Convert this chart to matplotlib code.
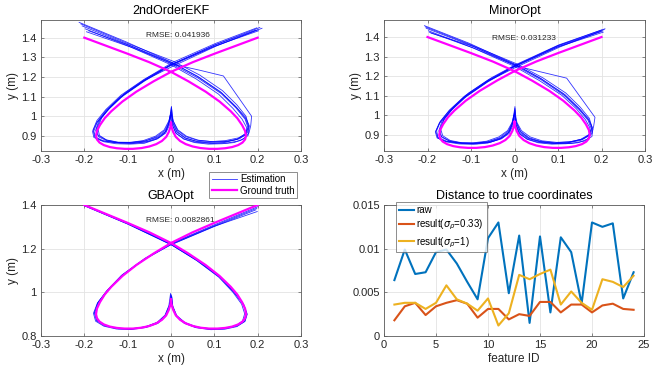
import matplotlib
matplotlib.use("Agg")
import matplotlib.pyplot as plt
from matplotlib.ticker import FuncFormatter

plt.rcParams['font.family'] = ['Liberation Sans', 'DejaVu Sans']

# ---------------- data ----------------
GT_X = [-0.200, -0.150, -0.100, -0.050,
        0.000, 0.040, 0.080, 0.112, 0.138, 0.153, 0.164, 0.171, 0.173, 0.171, 0.165, 0.155,
        0.141, 0.125, 0.107, 0.088, 0.068, 0.050, 0.034, 0.021, 0.011, 0.005, 0.001, 0.000,
        -0.001, -0.005, -0.011, -0.021, -0.034, -0.050, -0.068, -0.088, -0.107, -0.125, -0.141,
        -0.155, -0.165, -0.171, -0.173, -0.171, -0.164, -0.153, -0.138, -0.112, -0.080, -0.040, 0.000,
        0.050, 0.100, 0.150, 0.200]
GT_Y = [1.400, 1.359, 1.318, 1.275,
        1.226, 1.178, 1.125, 1.075, 1.025, 0.990, 0.955, 0.925, 0.900, 0.882, 0.866, 0.853,
        0.843, 0.837, 0.834, 0.834, 0.838, 0.846, 0.858, 0.874, 0.895, 0.920, 0.947, 0.970,
        0.947, 0.920, 0.895, 0.874, 0.858, 0.846, 0.838, 0.834, 0.834, 0.837, 0.843,
        0.853, 0.866, 0.882, 0.900, 0.925, 0.955, 0.990, 1.025, 1.075, 1.125, 1.178, 1.226,
        1.275, 1.318, 1.359, 1.400]

EKF_LAPS_X = [
    [-0.205, -0.100, 0.000, 0.062, 0.116, 0.150, 0.171, 0.178, 0.172, 0.152, 0.122, 0.090, 0.058, 0.032, 0.013, 0.004, 0.000, -0.004, -0.013, -0.032, -0.058, -0.090, -0.122, -0.150, -0.168, -0.172, -0.163, -0.142, -0.108, -0.056, 0.000, 0.100, 0.200],
    [-0.212, -0.105, -0.002, 0.060, 0.114, 0.149, 0.172, 0.181, 0.176, 0.156, 0.126, 0.093, 0.060, 0.034, 0.015, 0.005, 0.001, -0.003, -0.011, -0.028, -0.054, -0.086, -0.118, -0.147, -0.167, -0.174, -0.167, -0.147, -0.114, -0.061, -0.004, 0.100, 0.205],
    [-0.195, -0.090, 0.010, 0.065, 0.121, 0.186, 0.184, 0.180, 0.168, 0.146, 0.118, 0.086, 0.054, 0.029, 0.011, 0.003, -0.002, -0.006, -0.015, -0.035, -0.062, -0.095, -0.127, -0.155, -0.174, -0.178, -0.170, -0.150, -0.117, -0.064, 0.000, 0.105, 0.210],
    [-0.208, -0.102, 0.005, 0.066, 0.119, 0.152, 0.173, 0.179, 0.172, 0.152, 0.123, 0.090, 0.057, 0.031, 0.012, 0.003, 0.001, -0.003, -0.012, -0.031, -0.058, -0.090, -0.121, -0.148, -0.165, -0.169, -0.160, -0.139, -0.104, -0.052, 0.002, 0.102, 0.198],
    [-0.198, -0.098, 0.000, 0.058, 0.110, 0.143, 0.164, 0.174, 0.174, 0.158, 0.130, 0.097, 0.063, 0.036, 0.016, 0.006, 0.000, -0.006, -0.016, -0.036, -0.064, -0.098, -0.131, -0.160, -0.178, -0.181, -0.172, -0.150, -0.116, -0.062, -0.003, 0.098, 0.202],
    [-0.190, -0.095, 0.003, 0.063, 0.117, 0.151, 0.172, 0.180, 0.178, 0.160, 0.131, 0.097, 0.062, 0.034, 0.014, 0.004, 0.001, -0.004, -0.014, -0.034, -0.061, -0.094, -0.126, -0.156, -0.176, -0.180, -0.171, -0.150, -0.115, -0.062, 0.003, 0.100, 0.195],
]
EKF_LAPS_Y = [
    [1.460, 1.365, 1.268, 1.195, 1.115, 1.042, 0.985, 0.940, 0.905, 0.882, 0.870, 0.867, 0.873, 0.890, 0.920, 0.965, 1.020, 0.968, 0.922, 0.893, 0.875, 0.867, 0.868, 0.880, 0.902, 0.935, 0.985, 1.040, 1.110, 1.190, 1.262, 1.355, 1.440],
    [1.478, 1.380, 1.278, 1.205, 1.125, 1.050, 0.995, 0.950, 0.915, 0.890, 0.876, 0.871, 0.878, 0.896, 0.928, 0.975, 1.045, 0.978, 0.925, 0.892, 0.872, 0.862, 0.863, 0.874, 0.895, 0.928, 0.975, 1.032, 1.102, 1.182, 1.258, 1.362, 1.452],
    [1.430, 1.350, 1.262, 1.235, 1.205, 1.000, 0.952, 0.915, 0.885, 0.866, 0.860, 0.858, 0.866, 0.884, 0.915, 0.958, 1.005, 0.955, 0.912, 0.882, 0.862, 0.858, 0.860, 0.870, 0.890, 0.925, 0.972, 1.030, 1.098, 1.180, 1.250, 1.358, 1.448],
    [1.470, 1.372, 1.280, 1.210, 1.130, 1.058, 1.000, 0.952, 0.912, 0.882, 0.866, 0.862, 0.868, 0.884, 0.912, 0.955, 1.030, 0.958, 0.915, 0.885, 0.868, 0.863, 0.866, 0.878, 0.902, 0.940, 0.992, 1.050, 1.122, 1.200, 1.272, 1.370, 1.450],
    [1.445, 1.357, 1.262, 1.190, 1.112, 1.040, 0.985, 0.945, 0.910, 0.885, 0.872, 0.870, 0.878, 0.898, 0.930, 0.972, 1.010, 0.972, 0.930, 0.898, 0.876, 0.866, 0.866, 0.875, 0.892, 0.922, 0.965, 1.022, 1.095, 1.178, 1.255, 1.355, 1.435],
    [1.435, 1.360, 1.272, 1.200, 1.118, 1.045, 0.988, 0.940, 0.902, 0.876, 0.864, 0.862, 0.870, 0.888, 0.922, 0.970, 1.050, 0.975, 0.928, 0.895, 0.873, 0.864, 0.865, 0.875, 0.895, 0.930, 0.978, 1.035, 1.108, 1.188, 1.265, 1.362, 1.438],
]

MINOR_LAPS_X = [
    [-0.203, -0.100, 0.000, 0.061, 0.114, 0.148, 0.169, 0.177, 0.171, 0.152, 0.123, 0.091, 0.058, 0.031, 0.012, 0.003, 0.000, -0.004, -0.013, -0.031, -0.058, -0.090, -0.122, -0.150, -0.168, -0.172, -0.163, -0.143, -0.109, -0.057, 0.000, 0.100, 0.202],
    [-0.207, -0.104, -0.002, 0.059, 0.112, 0.147, 0.170, 0.179, 0.175, 0.155, 0.125, 0.092, 0.059, 0.033, 0.014, 0.004, 0.001, -0.003, -0.011, -0.028, -0.054, -0.086, -0.118, -0.147, -0.167, -0.174, -0.167, -0.147, -0.114, -0.061, -0.004, 0.100, 0.208],
    [-0.196, -0.092, 0.008, 0.064, 0.120, 0.185, 0.182, 0.178, 0.167, 0.146, 0.118, 0.086, 0.054, 0.029, 0.011, 0.003, -0.002, -0.006, -0.015, -0.035, -0.062, -0.095, -0.127, -0.156, -0.176, -0.181, -0.172, -0.151, -0.117, -0.064, 0.000, 0.105, 0.206],
    [-0.205, -0.102, 0.004, 0.065, 0.118, 0.151, 0.172, 0.178, 0.171, 0.151, 0.122, 0.089, 0.056, 0.030, 0.011, 0.003, 0.001, -0.003, -0.012, -0.031, -0.058, -0.090, -0.121, -0.148, -0.165, -0.170, -0.161, -0.140, -0.105, -0.053, 0.002, 0.102, 0.200],
    [-0.198, -0.098, 0.000, 0.057, 0.109, 0.142, 0.163, 0.173, 0.174, 0.158, 0.130, 0.097, 0.063, 0.036, 0.016, 0.006, 0.000, -0.006, -0.016, -0.036, -0.064, -0.098, -0.131, -0.160, -0.178, -0.182, -0.173, -0.151, -0.116, -0.062, -0.003, 0.098, 0.204],
    [-0.192, -0.095, 0.003, 0.062, 0.116, 0.150, 0.171, 0.180, 0.178, 0.160, 0.131, 0.097, 0.062, 0.034, 0.014, 0.004, 0.001, -0.004, -0.014, -0.034, -0.061, -0.094, -0.126, -0.156, -0.176, -0.179, -0.170, -0.149, -0.114, -0.061, 0.003, 0.100, 0.198],
]
MINOR_LAPS_Y = [
    [1.445, 1.357, 1.256, 1.182, 1.102, 1.030, 0.975, 0.930, 0.895, 0.872, 0.860, 0.858, 0.865, 0.882, 0.912, 0.958, 1.015, 0.960, 0.915, 0.885, 0.866, 0.858, 0.859, 0.870, 0.892, 0.925, 0.975, 1.030, 1.100, 1.180, 1.250, 1.350, 1.430],
    [1.458, 1.368, 1.264, 1.190, 1.110, 1.038, 0.982, 0.938, 0.903, 0.878, 0.864, 0.860, 0.868, 0.886, 0.918, 0.965, 1.035, 0.968, 0.918, 0.885, 0.864, 0.855, 0.856, 0.866, 0.888, 0.920, 0.968, 1.025, 1.095, 1.175, 1.248, 1.356, 1.442],
    [1.425, 1.342, 1.250, 1.220, 1.190, 0.990, 0.945, 0.908, 0.878, 0.860, 0.855, 0.853, 0.860, 0.878, 0.908, 0.952, 1.000, 0.952, 0.908, 0.878, 0.858, 0.852, 0.854, 0.864, 0.884, 0.918, 0.965, 1.022, 1.092, 1.172, 1.242, 1.350, 1.438],
    [1.452, 1.362, 1.264, 1.192, 1.114, 1.042, 0.985, 0.940, 0.902, 0.876, 0.860, 0.856, 0.862, 0.878, 0.906, 0.950, 1.025, 0.952, 0.908, 0.879, 0.862, 0.857, 0.860, 0.872, 0.896, 0.932, 0.985, 1.042, 1.115, 1.192, 1.258, 1.360, 1.436],
    [1.432, 1.347, 1.250, 1.178, 1.102, 1.034, 0.978, 0.938, 0.905, 0.880, 0.866, 0.862, 0.870, 0.890, 0.922, 0.962, 1.005, 0.962, 0.922, 0.890, 0.868, 0.859, 0.859, 0.868, 0.885, 0.915, 0.958, 1.015, 1.088, 1.170, 1.245, 1.348, 1.425],
    [1.420, 1.352, 1.258, 1.186, 1.106, 1.032, 0.975, 0.928, 0.892, 0.868, 0.857, 0.856, 0.864, 0.882, 0.915, 0.962, 1.045, 0.968, 0.920, 0.886, 0.865, 0.857, 0.858, 0.868, 0.888, 0.922, 0.970, 1.028, 1.100, 1.180, 1.255, 1.355, 1.428],
]

GBA_LAPS_X = [
    [-0.200, -0.100, 0.000, 0.059, 0.110, 0.143, 0.163, 0.170, 0.165, 0.148, 0.120, 0.089, 0.056, 0.030, 0.013, 0.004, 0.001, -0.004, -0.013, -0.031, -0.058, -0.091, -0.124, -0.153, -0.171, -0.176, -0.168, -0.147, -0.113, -0.060, 0.000, 0.100, 0.198],
    [-0.198, -0.099, 0.002, 0.061, 0.113, 0.146, 0.167, 0.175, 0.170, 0.152, 0.124, 0.092, 0.058, 0.031, 0.012, 0.003, -0.001, -0.005, -0.014, -0.032, -0.059, -0.093, -0.126, -0.155, -0.174, -0.179, -0.170, -0.149, -0.115, -0.062, -0.002, 0.098, 0.196],
    [-0.202, -0.101, -0.001, 0.060, 0.112, 0.145, 0.166, 0.174, 0.169, 0.151, 0.123, 0.091, 0.058, 0.031, 0.012, 0.003, 0.000, -0.003, -0.012, -0.030, -0.057, -0.090, -0.122, -0.151, -0.169, -0.174, -0.166, -0.146, -0.112, -0.059, 0.001, 0.101, 0.200],
    [-0.199, -0.100, 0.001, 0.062, 0.114, 0.147, 0.168, 0.176, 0.171, 0.153, 0.124, 0.092, 0.059, 0.032, 0.013, 0.004, 0.002, -0.004, -0.013, -0.031, -0.058, -0.092, -0.125, -0.154, -0.172, -0.177, -0.169, -0.148, -0.114, -0.061, -0.001, 0.099, 0.199],
]
GBA_LAPS_Y = [
    [1.398, 1.315, 1.220, 1.146, 1.070, 1.000, 0.946, 0.902, 0.868, 0.845, 0.833, 0.831, 0.840, 0.860, 0.892, 0.935, 0.985, 0.935, 0.892, 0.860, 0.841, 0.832, 0.834, 0.848, 0.872, 0.908, 0.955, 1.010, 1.080, 1.156, 1.222, 1.305, 1.385],
    [1.395, 1.312, 1.216, 1.144, 1.068, 0.998, 0.945, 0.900, 0.866, 0.843, 0.831, 0.829, 0.838, 0.858, 0.890, 0.935, 0.995, 0.938, 0.895, 0.862, 0.842, 0.831, 0.832, 0.845, 0.868, 0.904, 0.950, 1.004, 1.075, 1.150, 1.216, 1.300, 1.378],
    [1.402, 1.319, 1.224, 1.150, 1.074, 1.004, 0.950, 0.906, 0.872, 0.848, 0.835, 0.832, 0.841, 0.861, 0.893, 0.935, 0.990, 0.934, 0.890, 0.858, 0.839, 0.830, 0.833, 0.847, 0.871, 0.906, 0.953, 1.008, 1.078, 1.155, 1.224, 1.310, 1.392],
    [1.396, 1.313, 1.218, 1.145, 1.068, 0.998, 0.944, 0.900, 0.868, 0.846, 0.834, 0.833, 0.842, 0.862, 0.894, 0.938, 0.980, 0.940, 0.896, 0.863, 0.843, 0.833, 0.835, 0.848, 0.870, 0.905, 0.952, 1.006, 1.076, 1.152, 1.218, 1.302, 1.370],
]

TITLES = ["2ndOrderEKF", "MinorOpt", "GBAOpt"]
RMSE_TEXT = ["RMSE: 0.041936", "RMSE: 0.031233", "RMSE: 0.0082861"]

FEATURE_ID = list(range(1, 25))
RAW = [0.0064, 0.0099, 0.0071, 0.0073, 0.0096, 0.0099, 0.0083, 0.0062, 0.0042, 0.0112, 0.0130, 0.0049,
       0.0115, 0.0015, 0.0114, 0.0027, 0.0113, 0.0096, 0.0037, 0.0130, 0.0125, 0.0129, 0.0043, 0.0073]
RES033 = [0.0018, 0.0034, 0.0038, 0.0024, 0.0034, 0.0038, 0.0041, 0.0037, 0.0021, 0.0031, 0.0031, 0.0019,
          0.0025, 0.0023, 0.0039, 0.0039, 0.0027, 0.0036, 0.0036, 0.0027, 0.0035, 0.0037, 0.0031, 0.0030]
RES1 = [0.0036, 0.0038, 0.0038, 0.0031, 0.0038, 0.0058, 0.0042, 0.0037, 0.0029, 0.0043, 0.0012, 0.0026,
        0.0070, 0.0065, 0.0071, 0.0076, 0.0036, 0.0051, 0.0038, 0.0030, 0.0065, 0.0062, 0.0056, 0.0069]

# ---------------- style ----------------
TXT = '#262626'
GRID = '#e3e3e3'
AX = '#5a5a5a'
fmt = FuncFormatter(lambda v, p: ('%g' % round(v, 6)))


def style(ax):
    ax.grid(True, color=GRID, linewidth=0.6)
    ax.set_axisbelow(True)
    for s in ax.spines.values():
        s.set_color(AX)
        s.set_linewidth(0.6)
    ax.tick_params(direction='in', length=2.5, width=0.5, colors=AX, labelcolor=TXT,
                   labelsize=8, top=True, right=True, pad=3)
    ax.xaxis.set_major_formatter(fmt)
    ax.yaxis.set_major_formatter(fmt)


fig = plt.figure(figsize=(6.52, 3.72), dpi=100)
W, H = 652.0, 372.0


def add_ax(l, t, r, b):
    return fig.add_axes([l / W, 1 - b / H, (r - l) / W, (b - t) / H])


ax1 = add_ax(41, 20, 301, 151)
ax2 = add_ax(384, 20, 645, 151)
ax3 = add_ax(41, 205, 301, 336)
ax4 = add_ax(384, 205, 644, 336)

traj = [(ax1, EKF_LAPS_X, EKF_LAPS_Y, (0.823, 1.49), (-0.058, 1.41)),
        (ax2, MINOR_LAPS_X, MINOR_LAPS_Y, (0.818, 1.487), (-0.052, 1.39)),
        (ax3, GBA_LAPS_X, GBA_LAPS_Y, (0.8, 1.4), (-0.058, 1.33))]

handles = None
for i, (ax, LX, LY, yl, tp) in enumerate(traj):
    est = None
    for lx, ly in zip(LX, LY):
        est, = ax.plot(lx, ly, color='#0000ff', linewidth=0.6, alpha=0.8)
    gt, = ax.plot(GT_X, GT_Y, color='#ff00ff', linewidth=1.6, zorder=3)
    ax.set_xlim(-0.3, 0.3)
    ax.set_ylim(*yl)
    ax.set_xticks([-0.3, -0.2, -0.1, 0, 0.1, 0.2, 0.3])
    if i < 2:
        ax.set_yticks([0.9, 1.0, 1.1, 1.2, 1.3, 1.4])
    else:
        ax.set_yticks([0.8, 1.0, 1.2, 1.4])
    style(ax)
    ax.set_title(TITLES[i], fontsize=9, color='black', pad=4)
    ax.set_xlabel('x (m)', fontsize=8.5, color=TXT, labelpad=2)
    ax.set_ylabel('y (m)', fontsize=8.5, color=TXT, labelpad=2)
    ax.text(tp[0], tp[1], RMSE_TEXT[i], fontsize=6, color=TXT, ha='left', va='center', zorder=5)
    if i == 0:
        handles = (est, gt)

leg = ax1.legend(handles, ['Estimation', 'Ground truth'], loc='upper right',
                 bbox_to_anchor=(297 / W, 1 - 172 / H), bbox_transform=fig.transFigure,
                 fontsize=7, frameon=True, fancybox=False, borderaxespad=0,
                 handlelength=2.6, handletextpad=0.3, borderpad=0.25, labelspacing=0.15)
leg.get_frame().set_edgecolor(AX)
leg.get_frame().set_linewidth(0.6)
leg.set_zorder(10)

ax4.plot(FEATURE_ID, RAW, color='#0072BD', linewidth=1.5, label='raw')
ax4.plot(FEATURE_ID, RES033, color='#D95319', linewidth=1.5, label=r'result($\sigma_\rho$=0.33)')
ax4.plot(FEATURE_ID, RES1, color='#EDB120', linewidth=1.5, label=r'result($\sigma_\rho$=1)')
ax4.set_xlim(0, 25)
ax4.set_ylim(0, 0.015)
ax4.set_xticks([0, 5, 10, 15, 20, 25])
ax4.set_yticks([0, 0.005, 0.01, 0.015])
style(ax4)
ax4.set_title('Distance to true coordinates', fontsize=9, color='black', pad=4)
ax4.set_xlabel('feature ID', fontsize=8.5, color=TXT, labelpad=2)
leg2 = ax4.legend(loc='upper left', bbox_to_anchor=(396 / W, 1 - 202 / H),
                  bbox_transform=fig.transFigure, fontsize=7, frameon=True, fancybox=False,
                  borderaxespad=0, handlelength=1.6, handletextpad=0.2, borderpad=0.3,
                  labelspacing=0.3)
leg2.get_frame().set_edgecolor(AX)
leg2.get_frame().set_linewidth(0.6)

fig.savefig('out.png', dpi=100, facecolor='white')
